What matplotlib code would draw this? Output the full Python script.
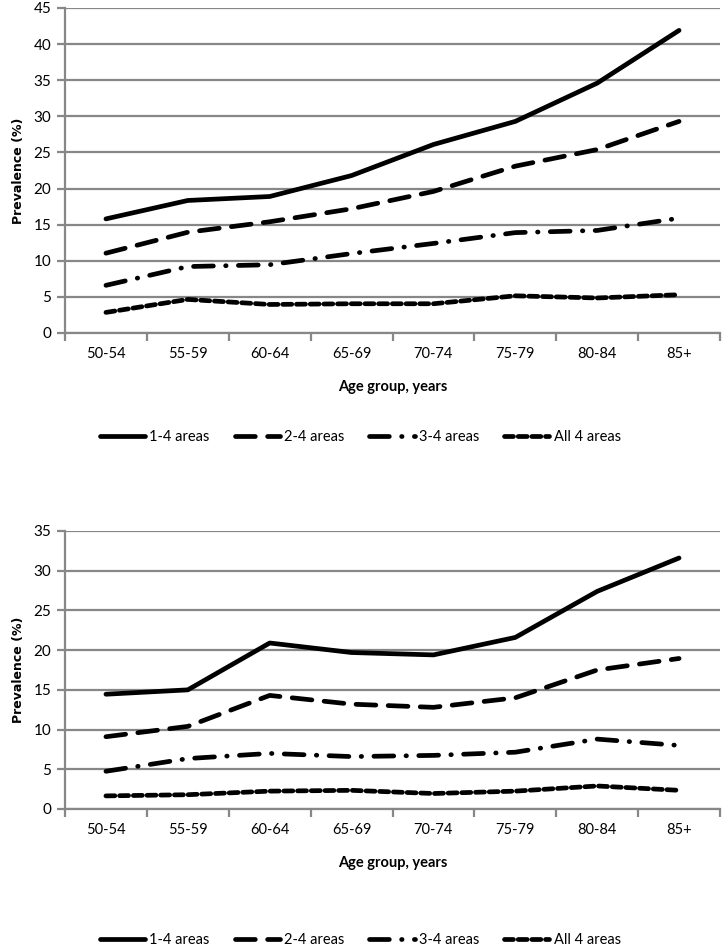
import numpy as np
import matplotlib
matplotlib.use('Agg')
import matplotlib.pyplot as plt
from matplotlib.lines import Line2D

plt.rcParams['font.family'] = ['Lato', 'DejaVu Sans']

age_groups = ['50-54', '55-59', '60-64', '65-69', '70-74', '75-79', '80-84', '85+']
series_names = ['1-4 areas', '2-4 areas', '3-4 areas', 'All 4 areas']

# top panel
top_1_4 = [15.8, 18.35, 18.9, 21.8, 26.1, 29.3, 34.6, 41.9]
top_2_4 = [11.05, 13.95, 15.4, 17.2, 19.6, 23.1, 25.4, 29.3]
top_3_4 = [6.6, 9.2, 9.45, 11.0, 12.4, 13.9, 14.2, 15.9]
top_all4 = [2.85, 4.65, 3.95, 4.05, 4.05, 5.15, 4.85, 5.3]

# bottom panel
bot_1_4 = [14.45, 15.0, 20.9, 19.7, 19.4, 21.6, 27.4, 31.6]
bot_2_4 = [9.1, 10.4, 14.3, 13.2, 12.8, 14.0, 17.5, 18.95]
bot_3_4 = [4.75, 6.35, 7.0, 6.6, 6.75, 7.15, 8.8, 8.0]
bot_all4 = [1.65, 1.8, 2.25, 2.35, 1.95, 2.25, 2.9, 2.35]

GRID = '#878787'
LW = 3.4
styles = [
    dict(linestyle='-', solid_capstyle='round'),
    dict(linestyle=(0, (4.2, 2.6)), dash_capstyle='round'),
    dict(linestyle=(0, (4.2, 2.6, 0.1, 2.6)), dash_capstyle='round'),
    dict(linestyle=(0, (1.9, 1.0)), dash_capstyle='round'),
]

fig = plt.figure(figsize=(7.25, 9.49), dpi=100)
ax1 = fig.add_axes([65/725, 1-333/949, 655/725, 325/949])
ax2 = fig.add_axes([65/725, 1-809/949, 655/725, 278/949])


def draw(ax, data, ymax):
    x = np.arange(len(age_groups))
    for vals, st in zip(data, styles):
        ax.plot(x, vals, color='black', lw=LW, solid_joinstyle='round',
                dash_joinstyle='round', **st)
    ax.set_xlim(-0.5, len(age_groups) - 0.5)
    ax.set_ylim(0, ymax)
    ax.set_yticks(np.arange(0, ymax + 1, 5))
    ax.yaxis.grid(True, color=GRID, lw=1.6)
    ax.set_axisbelow(True)
    ax.set_xticks(x)
    ax.set_xticklabels(age_groups, fontsize=10.5)
    ax.set_xticks(np.arange(-0.5, len(age_groups)), minor=True)
    ax.tick_params(axis='x', which='major', length=0, pad=10)
    ax.tick_params(axis='x', which='minor', length=6, width=1.6, color=GRID)
    ax.tick_params(axis='y', length=6, width=1.6, color=GRID, labelsize=11, pad=4)
    for s in ['top', 'right']:
        ax.spines[s].set_visible(False)
    for s in ['left', 'bottom']:
        ax.spines[s].set_color(GRID)
        ax.spines[s].set_linewidth(1.6)
    ax.set_xlabel('Age group, years', fontsize=10.5, fontweight='bold', labelpad=14)
    ax.set_ylabel('Prevalence (%)', fontsize=9, fontweight='bold',
                  family='DejaVu Sans', labelpad=6)


draw(ax1, [top_1_4, top_2_4, top_3_4, top_all4], 45)
draw(ax2, [bot_1_4, bot_2_4, bot_3_4, bot_all4], 35)

handles = [Line2D([], [], color='black', lw=LW, **st) for st in styles]
for ypos in [1-437/949, 1-940/949]:
    fig.legend(handles, series_names, loc='center', bbox_to_anchor=(0.497, ypos),
               ncol=4, frameon=False, fontsize=10.5, handlelength=3.1,
               handletextpad=0.3, columnspacing=1.7)

fig.savefig('out.png', dpi=100, facecolor='w')
